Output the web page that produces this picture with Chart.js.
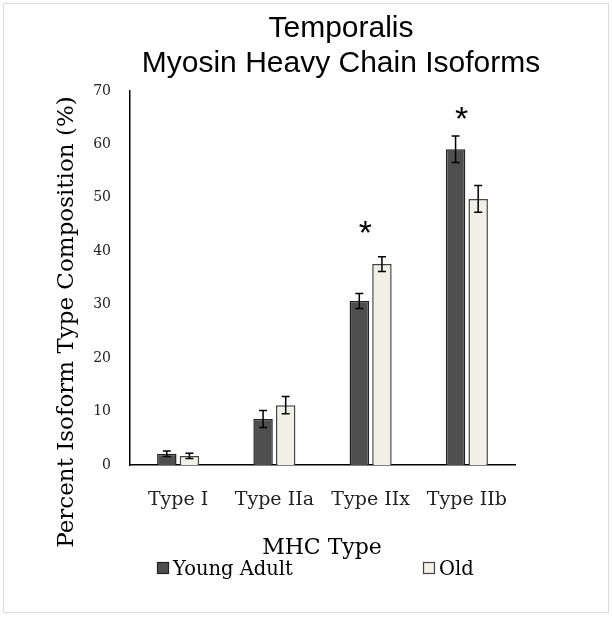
<!DOCTYPE html>
<html>
<head>
<meta charset="utf-8">
<script src="https://cdn.jsdelivr.net/npm/chart.js@4.4.0/dist/chart.umd.min.js"></script>
<style>
  html, body { margin:0; padding:0; background:#fff; }
  #wrap { width:612px; height:618px; }
</style>
</head>
<body>
<div id="wrap"><canvas id="chart" width="612" height="618"></canvas></div>
<script>
/* ---------- data ---------- */
const categories  = ['Type I', 'Type IIa', 'Type IIx', 'Type IIb'];
const youngValues = [2.1, 8.6, 30.7, 59.1];
const youngErrors = [0.5, 1.6, 1.4, 2.5];
const oldValues   = [1.7, 11.2, 37.6, 49.8];
const oldErrors   = [0.5, 1.6, 1.4, 2.5];
const sigCats     = [2, 3];          // categories marked with *
const sigValues   = [44.6, 65.9];    // where the * sits on the y scale
const yTicks      = [0, 10, 20, 30, 40, 50, 60, 70];

const SERIF = '"DejaVu Serif", serif';
const SANS  = '"Liberation Sans", Arial, sans-serif';

/* ---------- plugins ---------- */
const errorBars = {
  id: 'errorBars',
  afterDatasetsDraw(chart) {
    const ctx = chart.ctx, y = chart.scales.y;
    const errs = [youngErrors, oldErrors];
    ctx.save();
    ctx.strokeStyle = '#000';
    ctx.lineWidth = 1.5;
    errs.forEach((e, di) => {
      chart.getDatasetMeta(di).data.forEach((bar, i) => {
        const v = chart.data.datasets[di].data[i];
        const top = y.getPixelForValue(v + e[i]);
        const bot = y.getPixelForValue(v - e[i]);
        ctx.beginPath();
        ctx.moveTo(bar.x, top); ctx.lineTo(bar.x, bot);
        ctx.moveTo(bar.x - 4, top); ctx.lineTo(bar.x + 4, top);
        ctx.moveTo(bar.x - 4, bot); ctx.lineTo(bar.x + 4, bot);
        ctx.stroke();
      });
    });
    // significance stars above the young-adult bar
    ctx.fillStyle = '#000';
    ctx.font = '34px ' + SANS;
    ctx.textAlign = 'center';
    ctx.textBaseline = 'middle';
    sigCats.forEach((c, k) => {
      const bar = chart.getDatasetMeta(0).data[c];
      ctx.fillText('*', bar.x + 6, y.getPixelForValue(sigValues[k]) + 8);
    });
    ctx.restore();
  }
};

const decorations = {
  id: 'decorations',
  afterDraw(chart) {
    const ctx = chart.ctx;
    ctx.save();
    // outer frame
    ctx.strokeStyle = '#d9d9d9';
    ctx.lineWidth = 1;
    ctx.strokeRect(3.5, 3.5, 605, 609);

    // title
    ctx.fillStyle = '#000';
    ctx.textAlign = 'center';
    ctx.textBaseline = 'middle';
    ctx.font = '30px ' + SANS;
    ctx.fillText('Temporalis', 341, 29);
    ctx.fillText('Myosin Heavy Chain Isoforms', 341, 64);

    // y title
    ctx.save();
    ctx.translate(67, 322);
    ctx.rotate(-Math.PI / 2);
    ctx.font = '23px ' + SERIF;
    ctx.fillText('Percent Isoform Type Composition (%)', 0, 0);
    ctx.restore();

    // x title
    ctx.font = '22px ' + SERIF;
    ctx.fillText('MHC Type', 322, 548);

    // legend
    const items = [
      { label: 'Young Adult', fill: '#4f4f4f', stroke: '#222', x: 157 },
      { label: 'Old',         fill: '#f2efe6', stroke: '#444', x: 423 }
    ];
    ctx.font = '19.5px ' + SERIF;
    ctx.textAlign = 'left';
    items.forEach(it => {
      ctx.fillStyle = it.fill;
      ctx.fillRect(it.x, 562, 12, 12);
      ctx.strokeStyle = it.stroke;
      ctx.lineWidth = 1.2;
      ctx.strokeRect(it.x + 0.5, 562.5, 11, 11);
      ctx.fillStyle = '#000';
      ctx.fillText(it.label, it.x + 16, 570);
    });
    ctx.restore();
  }
};

/* ---------- chart ---------- */
new Chart(document.getElementById('chart'), {
  type: 'bar',
  data: {
    labels: categories,
    datasets: [
      { label: 'Young Adult', data: youngValues, backgroundColor: '#4f4f4f',
        borderColor: '#222', borderWidth: 1.5 },
      { label: 'Old', data: oldValues, backgroundColor: '#f2efe6',
        borderColor: '#444', borderWidth: 1.5 }
    ]
  },
  options: {
    responsive: false,
    animation: false,
    events: [],
    layout: { padding: { top: 91, right: 97, left: 0, bottom: 0 } },
    datasets: { bar: { categoryPercentage: 0.47, barPercentage: 0.86 } },
    plugins: { legend: { display: false }, title: { display: false }, tooltip: { enabled: false } },
    scales: {
      x: {
        grid: { display: false, drawTicks: false },
        border: { color: '#000', width: 1.5 },
        ticks: { color: '#222', padding: 24, font: { family: SERIF, size: 19 } },
        afterFit(s) { s.height = 618 - 465; }
      },
      y: {
        min: 0, max: 70,
        afterBuildTicks(s) { s.ticks = yTicks.map(v => ({ value: v })); },
        grid: { display: false, drawTicks: false },
        border: { color: '#000', width: 1.5 },
        ticks: { color: '#222', padding: 19, font: { family: SERIF, size: 14 } },
        afterFit(s) { s.width = 130; }
      }
    }
  },
  plugins: [errorBars, decorations]
});
</script>
</body>
</html>
